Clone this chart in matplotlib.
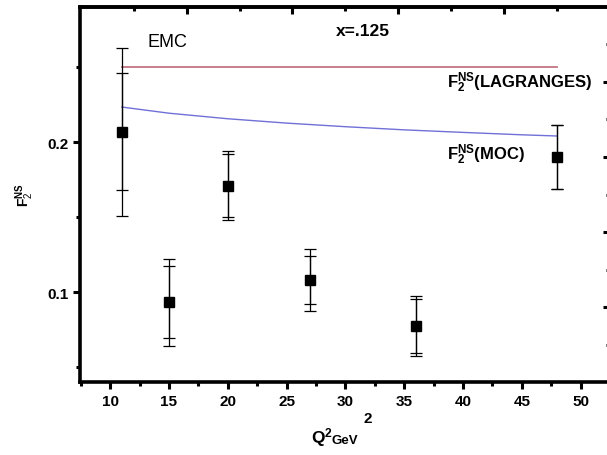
import matplotlib
matplotlib.use('Agg')
import matplotlib.pyplot as plt
from matplotlib.ticker import MultipleLocator, FixedLocator, NullFormatter

plt.rcParams['font.family'] = ['Liberation Sans', 'DejaVu Sans']
plt.rcParams['mathtext.fontset'] = 'custom'
plt.rcParams['mathtext.rm'] = 'Liberation Sans'
plt.rcParams['mathtext.bf'] = 'Liberation Sans:bold'
plt.rcParams['mathtext.it'] = 'Liberation Sans:italic'

# EMC data points with inner and outer error bars
q2_data = [11, 15, 20, 27, 36, 48]
f2_data = [0.2067, 0.0933, 0.171, 0.108, 0.0775, 0.190]
err_inner = [0.039, 0.024, 0.021, 0.016, 0.018, 0.021]
err_outer = [0.056, 0.029, 0.023, 0.0207, 0.020, 0.0215]

# model curves
q2_curve = [11, 15, 20, 25, 30, 35, 40, 45, 48]
f2_lagranges = [0.250, 0.250, 0.250, 0.250, 0.250, 0.250, 0.250, 0.250, 0.250]
f2_moc = [0.2233, 0.2192, 0.2155, 0.2126, 0.2102, 0.2081, 0.2064, 0.2048, 0.2040]

# odd tick positions on the unlabelled top / right axes
top_major = [16.5, 25.5, 34.5, 43.5]
top_minor = [12.0, 21.0, 30.0, 39.0, 48.0]
right_major = [0.09, 0.14, 0.19, 0.24]
right_minor = [0.065, 0.115, 0.165, 0.215, 0.265]

fig = plt.figure(figsize=(6.07, 4.56), dpi=100)
ax = fig.add_axes([0.132, 0.160, 0.873, 0.8225])

ax.plot(q2_curve, f2_lagranges, color='#c27483', lw=1.3)
ax.plot(q2_curve, f2_moc, color='#7070d8', lw=1.0)

ax.errorbar(q2_data, f2_data, yerr=err_outer, fmt='none', ecolor='black',
            elinewidth=0.9, capsize=4, capthick=0.9)
ax.errorbar(q2_data, f2_data, yerr=err_inner, fmt='s', color='black',
            markersize=7, ecolor='black', elinewidth=0.9, capsize=4, capthick=0.9)

ax.set_xlim(7.45, 52.5)
ax.set_ylim(0.04, 0.29)

ax.xaxis.set_major_locator(MultipleLocator(5))
ax.xaxis.set_minor_locator(MultipleLocator(2.5))
ax.yaxis.set_major_locator(MultipleLocator(0.1))
ax.yaxis.set_minor_locator(MultipleLocator(0.05))
ax.set_yticks([0.1, 0.2])
ax.set_yticklabels(['0.1', '0.2'])

ax.tick_params(which='both', direction='out', width=2.2, top=False, right=False,
               labelsize=11)
ax.tick_params(which='major', length=5)
ax.tick_params(which='minor', length=3)
for lab in ax.get_xticklabels() + ax.get_yticklabels():
    lab.set_fontweight('bold')

for sp in ax.spines.values():
    sp.set_linewidth(2.6)

# top and right tick marks (no labels)
secx = ax.secondary_xaxis('top')
secx.xaxis.set_major_locator(FixedLocator(top_major))
secx.xaxis.set_minor_locator(FixedLocator(top_minor))
secx.xaxis.set_major_formatter(NullFormatter())
secx.tick_params(which='both', direction='in', width=2.2)
secx.tick_params(which='major', length=5)
secx.tick_params(which='minor', length=3)
secx.spines['top'].set_linewidth(2.6)

secy = ax.secondary_yaxis('right')
secy.yaxis.set_major_locator(FixedLocator(right_major))
secy.yaxis.set_minor_locator(FixedLocator(right_minor))
secy.yaxis.set_major_formatter(NullFormatter())
secy.tick_params(which='both', direction='in', width=2.2)
secy.tick_params(which='major', length=5)
secy.tick_params(which='minor', length=3)

ax.text(13.15, 0.2667, 'EMC', fontsize=13, va='center', ha='left')
ax.text(29.2, 0.274, 'x=.125', fontsize=12.5, fontweight='bold', va='center', ha='left')
ax.text(38.65, 0.240, r'$\mathbf{F_2^{NS}}$(LAGRANGES)', fontsize=12,
        fontweight='bold', va='center', ha='left')
ax.text(38.65, 0.192, r'$\mathbf{F_2^{NS}}$(MOC)', fontsize=12,
        fontweight='bold', va='center', ha='left')

ax.set_ylabel(r'$\mathbf{F}^{\mathbf{NS}}_{2}$', fontsize=10, labelpad=8)

# x label built from pieces: Q^2 large, GeV small, raised 2
fig.text(311 / 607, 1 - 443 / 456, r'$\mathbf{Q}^{\mathbf{2}}$', fontsize=12.5,
         ha='left', va='baseline')
fig.text(331 / 607, 1 - 444 / 456, 'GeV', fontsize=9.5, fontweight='bold',
         ha='left', va='baseline')
fig.text(363 / 607, 1 - 423 / 456, '2', fontsize=11, fontweight='bold',
         ha='left', va='baseline')

plt.savefig('out.png', dpi=100)
